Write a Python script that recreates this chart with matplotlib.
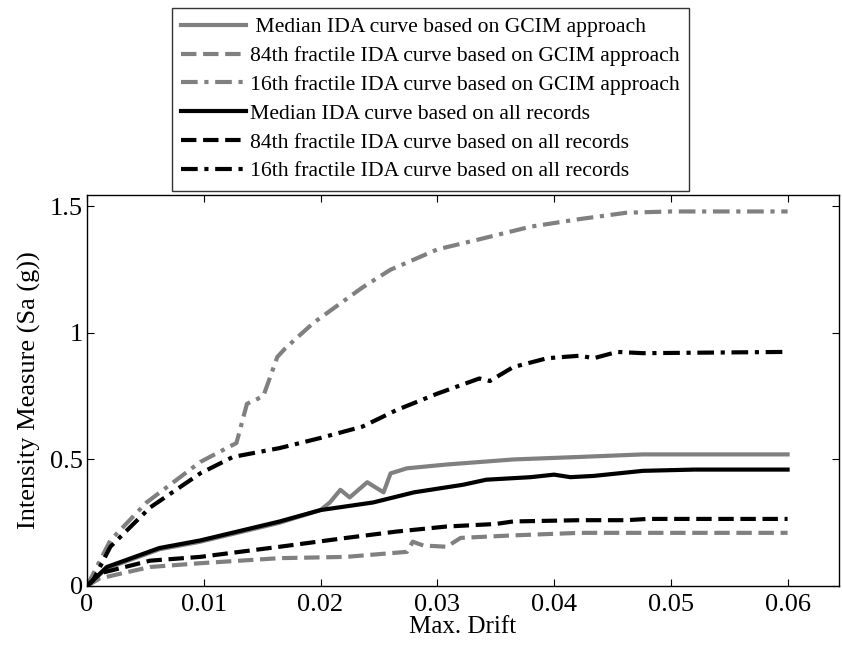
import numpy as np
import matplotlib
matplotlib.use("Agg")
import matplotlib.pyplot as plt

plt.rcParams['font.family'] = ['Liberation Serif', 'DejaVu Serif']

# Courbes IDA
x_med_gcim = [0, 0.0017, 0.0062, 0.0097, 0.0165, 0.0200, 0.0208, 0.0217, 0.0225, 0.0240,
              0.0254, 0.0260, 0.0274, 0.0308, 0.0365, 0.0422, 0.0476, 0.060]
y_med_gcim = [0, 0.07, 0.145, 0.175, 0.25, 0.30, 0.33, 0.38, 0.35, 0.41,
              0.37, 0.445, 0.465, 0.48, 0.50, 0.51, 0.52, 0.52]

x_84_gcim = [0, 0.0011, 0.0054, 0.0097, 0.0165, 0.0222, 0.0274, 0.0279, 0.0288, 0.0308,
             0.0320, 0.0365, 0.0422, 0.060]
y_84_gcim = [0, 0.03, 0.075, 0.09, 0.11, 0.115, 0.135, 0.175, 0.16, 0.155,
             0.19, 0.20, 0.21, 0.21]

x_16_gcim = [0, 0.0020, 0.0051, 0.0097, 0.0128, 0.0137, 0.0151, 0.0163, 0.0170, 0.0194,
             0.0236, 0.0260, 0.0300, 0.0336, 0.0380, 0.0422, 0.0462, 0.050, 0.060]
y_16_gcim = [0, 0.18, 0.33, 0.49, 0.565, 0.72, 0.75, 0.905, 0.94, 1.04,
             1.18, 1.25, 1.33, 1.37, 1.42, 1.45, 1.475, 1.48, 1.48]

x_med_all = [0, 0.0017, 0.0062, 0.0097, 0.0165, 0.0200, 0.0245, 0.0280, 0.0322, 0.0342,
             0.0380, 0.0400, 0.0414, 0.0434, 0.0476, 0.0520, 0.060]
y_med_all = [0, 0.075, 0.15, 0.18, 0.255, 0.30, 0.33, 0.37, 0.40, 0.42,
             0.43, 0.44, 0.43, 0.435, 0.455, 0.46, 0.46]

x_84_all = [0, 0.0011, 0.0054, 0.0097, 0.0165, 0.0222, 0.0265, 0.0308, 0.0350, 0.0365,
            0.0422, 0.0462, 0.0480, 0.060]
y_84_all = [0, 0.05, 0.10, 0.115, 0.155, 0.19, 0.215, 0.235, 0.245, 0.255,
            0.26, 0.26, 0.265, 0.265]

x_16_all = [0, 0.0005, 0.0020, 0.0054, 0.0097, 0.0125, 0.0165, 0.0200, 0.0236, 0.0265,
            0.0300, 0.0336, 0.0345, 0.0365, 0.0394, 0.0422, 0.0434, 0.0454, 0.0476, 0.060]
y_16_all = [0, 0.02, 0.155, 0.31, 0.445, 0.51, 0.545, 0.585, 0.63, 0.695,
            0.76, 0.82, 0.81, 0.865, 0.90, 0.91, 0.90, 0.925, 0.92, 0.925]

labels = [" Median IDA curve based on GCIM approach",
          "84th fractile IDA curve based on GCIM approach",
          "16th fractile IDA curve based on GCIM approach",
          "Median IDA curve based on all records",
          "84th fractile IDA curve based on all records",
          "16th fractile IDA curve based on all records"]

gris = '#808080'
lw = 3.0
dashdot = (4, 1.6, 1, 1.6)

fig = plt.figure(figsize=(8.42, 6.49), dpi=100)
ax = fig.add_axes([0.1033, 0.0971, 0.8931, 0.6024])

ax.plot(x_med_gcim, y_med_gcim, color=gris, lw=lw, label=labels[0])
ax.plot(x_84_gcim, y_84_gcim, color=gris, lw=lw, ls='--', label=labels[1])
ax.plot(x_16_gcim, y_16_gcim, color=gris, lw=lw, ls=(0, dashdot), label=labels[2])
ax.plot(x_med_all, y_med_all, color='k', lw=lw, label=labels[3])
ax.plot(x_84_all, y_84_all, color='k', lw=lw, ls='--', label=labels[4])
ax.plot(x_16_all, y_16_all, color='k', lw=lw, ls=(0, dashdot), label=labels[5])

ax.set_xlim(0, 0.0644)
ax.set_ylim(0, 1.545)
ax.set_xticks([0, 0.01, 0.02, 0.03, 0.04, 0.05, 0.06])
ax.set_xticklabels(['0', '0.01', '0.02', '0.03', '0.04', '0.05', '0.06'])
ax.set_yticks([0, 0.5, 1, 1.5])
ax.set_yticklabels(['0', '0.5', '1', '1.5'])
ax.tick_params(direction='in', top=True, right=True, labelsize=19, length=5)
ax.tick_params(axis='x', pad=6)
ax.tick_params(axis='y', pad=3)
for s in ax.spines.values():
    s.set_linewidth(1.0)

ax.set_xlabel("Max. Drift", fontsize=18, labelpad=0)
ax.set_ylabel("Intensity Measure (Sa (g))", fontsize=19, labelpad=6)

leg = fig.legend(loc='upper left', bbox_to_anchor=(172/842, 1 - 8/649),
                 fontsize=15.6, frameon=True, fancybox=False, edgecolor='k',
                 handlelength=3.0, handletextpad=0.2, labelspacing=0.4,
                 borderpad=0.42, borderaxespad=0)
leg.get_frame().set_linewidth(1.0)

fig.savefig("out.png", dpi=100)
